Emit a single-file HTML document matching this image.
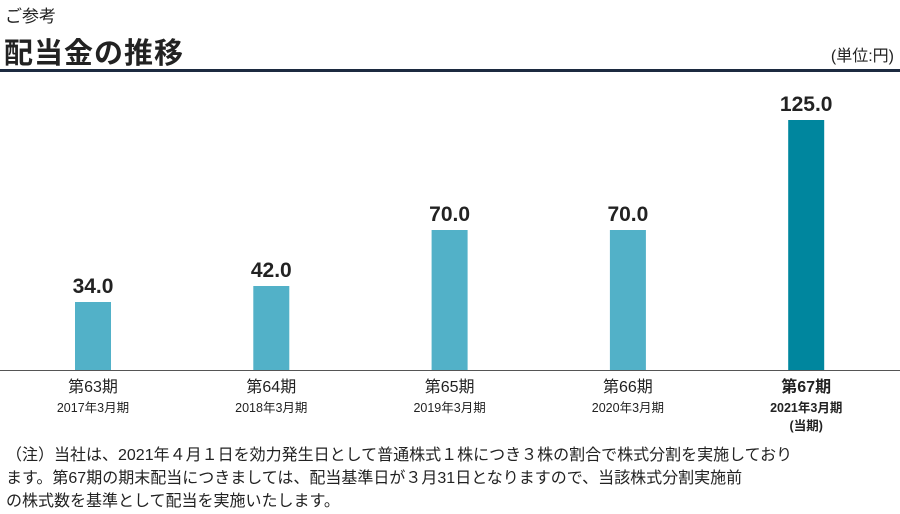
<!DOCTYPE html>
<html><head><meta charset="utf-8"><style>
body{margin:0;width:900px;height:514px;background:#fff;font-family:"Liberation Sans","Noto Sans CJK JP",sans-serif;color:#222;position:relative;overflow:hidden}
.a{position:absolute;white-space:nowrap}
.fl{position:absolute;left:6px;white-space:nowrap;font-size:16px}
</style></head><body>
<div class="a" style="left:5px;top:2px;font-size:17px">ご参考</div>
<div class="a" style="left:4px;top:30px;font-size:29px;font-weight:bold;letter-spacing:1px">配当金の推移</div>
<div class="a" style="right:6px;top:42px;font-size:16px">(単位:円)</div>
<div class="a" style="left:0;top:69px;width:900px;height:3px;background:#1c2a40"></div>
<svg id="chart" class="a" style="left:0;top:0" width="900" height="440"></svg>
<div>
<div class="fl" style="top:441px">（注）当社は、2021年４月１日を効力発生日として普通株式１株につき３株の割合で株式分割を実施しており</div>
<div class="fl" style="top:464px">ます。第67期の期末配当につきましては、配当基準日が３月31日となりますので、当該株式分割実施前</div>
<div class="fl" style="top:487px">の株式数を基準として配当を実施いたします。</div>
</div>
<script>
const periods=["第63期","第64期","第65期","第66期","第67期"];
const years=["2017年3月期","2018年3月期","2019年3月期","2020年3月期","2021年3月期"];
const values=[34.0,42.0,70.0,70.0,125.0];
const svg=document.getElementById('chart');
const NS='http://www.w3.org/2000/svg';
const base=370,scale=2.0,x0=93,step=178.3,bw=36;
const xc=i=>x0+i*step, y=v=>base-v*scale;
function mk(t,at){const e=document.createElementNS(NS,t);for(const k in at)e.setAttribute(k,at[k]);svg.appendChild(e);return e;}
const ax=mk('line',{x1:0,x2:900,y1:base+0.5,y2:base+0.5,stroke:'#555','stroke-width':1});


values.forEach((v,i)=>{
 const last=i===values.length-1;
 const r=mk('rect',{x:xc(i)-bw/2,y:y(v),width:bw,height:v*scale,fill:last?'#00869e':'#52b1c8'});
 
 
 const t=mk('text',{x:xc(i),y:y(v)-9,'text-anchor':'middle','font-size':21,'font-weight':'bold',fill:'#222'});
 t.textContent=v.toFixed(1);
 
 
 const p=mk('text',{x:xc(i),y:392,'text-anchor':'middle','font-size':16,'font-weight':last?'bold':'normal',fill:'#222'});
 p.textContent=periods[i];
 
 
 const q=mk('text',{x:xc(i),y:412,'text-anchor':'middle','font-size':12.5,'font-weight':last?'bold':'normal',fill:'#222'});
 q.textContent=years[i];
 
 
 if(last){const c=mk('text',{x:xc(i),y:430,'text-anchor':'middle','font-size':12.5,'font-weight':'bold',fill:'#222'});
 c.textContent='(当期)';
 
 }
});
</script>
</body></html>
